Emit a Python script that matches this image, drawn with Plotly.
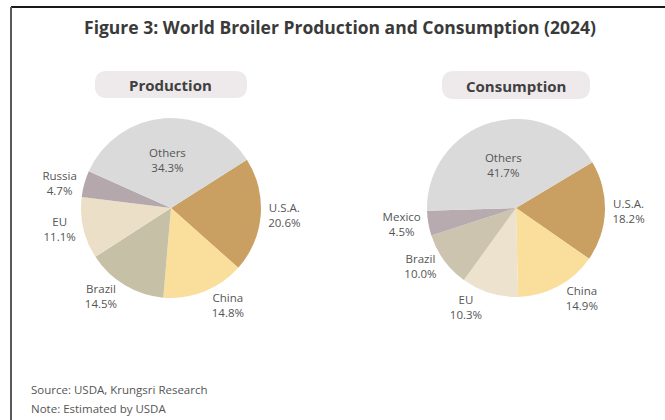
import plotly.graph_objects as go

W, H = 665, 420

# ---- data ----
prod_labels = ["U.S.A.", "China", "Brazil", "EU", "Russia", "Others"]
prod_values = [20.6, 14.8, 14.5, 11.1, 4.7, 34.3]
prod_colors = ["#C9A062", "#FADF9C", "#C6C0A6", "#ECDFC7", "#B4A8AC", "#DADADA"]

cons_labels = ["U.S.A.", "China", "EU", "Brazil", "Mexico", "Others"]
cons_values = [18.2, 14.9, 10.3, 10.0, 4.5, 41.7]
cons_colors = ["#C9A062", "#FADF9C", "#EDE2CE", "#CCC4AE", "#B7ABAF", "#DADADA"]

title_text = "Figure 3: World Broiler Production and Consumption (2024)"
panel_titles = ["Production", "Consumption"]
notes = ["Source: USDA, Krungsri Research", "Note: Estimated by USDA"]

FONT = "Open Sans, Calibri, sans-serif"
TXT = "#555555"


def px(x):
    return x / W


def py(y):
    return 1 - y / H


def positions(labels):
    return ["inside" if l == "Others" else "outside" for l in labels]


fig = go.Figure()

fig.add_trace(go.Pie(
    labels=prod_labels, values=prod_values, sort=False, direction="clockwise",
    rotation=57.5,
    marker=dict(colors=prod_colors, line=dict(width=0)),
    texttemplate="%{label}<br>%{value:.1f}%", textposition=positions(prod_labels),
    insidetextorientation="horizontal",
    textfont=dict(family=FONT, size=11.5, color=TXT),
    domain=dict(x=[px(81), px(261)], y=[py(298), py(118)]),
    hoverinfo="label+value", showlegend=False,
))

fig.add_trace(go.Pie(
    labels=cons_labels, values=cons_values, sort=False, direction="clockwise",
    rotation=59,
    marker=dict(colors=cons_colors, line=dict(width=0)),
    texttemplate="%{label}<br>%{value:.1f}%", textposition=positions(cons_labels),
    insidetextorientation="horizontal",
    textfont=dict(family=FONT, size=11.5, color=TXT),
    domain=dict(x=[px(427), px(605)], y=[py(297), py(119)]),
    hoverinfo="label+value", showlegend=False,
))


def pill(x0, y0, x1, y1, r):
    # rounded rectangle path in paper coords
    X0, X1 = px(x0), px(x1)
    Y0, Y1 = py(y0), py(y1)
    rx, ry = r / W, r / H
    return (f"M {X0+rx},{Y0} L {X1-rx},{Y0} Q {X1},{Y0} {X1},{Y0-ry} "
            f"L {X1},{Y1+ry} Q {X1},{Y1} {X1-rx},{Y1} L {X0+rx},{Y1} "
            f"Q {X0},{Y1} {X0},{Y1+ry} L {X0},{Y0-ry} Q {X0},{Y0} {X0+rx},{Y0} Z")


shapes = [
    dict(type="path", xref="paper", yref="paper", path=pill(95, 71, 247, 98, 12),
         fillcolor="#EEE9EB", line=dict(width=0), layer="below"),
    dict(type="path", xref="paper", yref="paper", path=pill(442, 71, 590, 99, 12),
         fillcolor="#EEE9EB", line=dict(width=0), layer="below"),
    # frame
    dict(type="line", xref="paper", yref="paper", x0=px(11), x1=1.0, y0=py(7), y1=py(7),
         line=dict(color="#1A1A1A", width=2)),
    dict(type="line", xref="paper", yref="paper", x0=px(11), x1=px(11), y0=py(7), y1=0,
         line=dict(color="#5A5A5A", width=2)),
]

annotations = [
    dict(text=f"<b>{panel_titles[0]}</b>", x=px(171), y=py(85), xref="paper", yref="paper",
         xanchor="center", yanchor="middle",
         showarrow=False, font=dict(family=FONT, size=15, color="#404040")),
    dict(text=f"<b>{panel_titles[1]}</b>", x=px(516), y=py(86), xref="paper", yref="paper",
         xanchor="center", yanchor="middle",
         showarrow=False, font=dict(family=FONT, size=15, color="#404040")),
    dict(text=notes[0], x=px(29), y=py(389), xref="paper", yref="paper", xanchor="left",
         yanchor="middle",
         showarrow=False, font=dict(family=FONT, size=11.5, color=TXT)),
    dict(text=notes[1], x=px(29), y=py(408), xref="paper", yref="paper", xanchor="left",
         yanchor="middle",
         showarrow=False, font=dict(family=FONT, size=11.5, color=TXT)),
]

fig.update_layout(
    width=W, height=H,
    margin=dict(l=0, r=0, t=0, b=0),
    paper_bgcolor="white", plot_bgcolor="white",
    title=dict(text=f"<b>{title_text}</b>", x=px(340), xanchor="center",
               y=py(28), yanchor="middle",
               font=dict(family=FONT, size=17.5, color="#3A3A3A")),
    shapes=shapes, annotations=annotations,
)

fig.write_html("out.html", config={"displayModeBar": False},
               post_script="document.body.style.margin='0';")
